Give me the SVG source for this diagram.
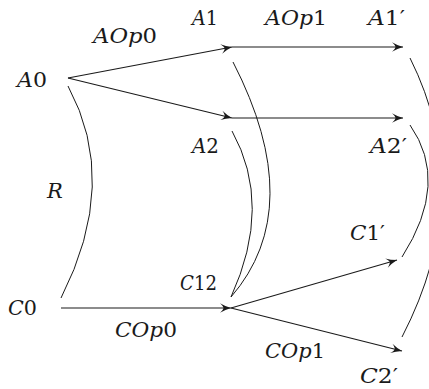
<svg xmlns="http://www.w3.org/2000/svg" width="429" height="389" viewBox="0 0 429 389">
<defs>
<style>
.lbl{font-family:"DejaVu Serif","Liberation Serif",serif;font-style:italic;font-size:21px;fill:#1a1a1a}
.up{font-style:normal}
.ln{fill:none;stroke:#1a1a1a;stroke-width:1.1}
.cv{fill:none;stroke:#1a1a1a;stroke-width:1}
</style>
<marker id="ah" markerUnits="userSpaceOnUse" markerWidth="14" markerHeight="12" viewBox="-12 -6 14 12" refX="0" refY="0" orient="auto">
<path d="M0,0 Q-6,-1.8 -11,-4.8 Q-7.5,-1.5 -7.5,0 Q-7.5,1.5 -11,4.8 Q-6,1.8 0,0 Z" fill="#1a1a1a"/>
</marker>
</defs>
<g id="connectors">
<path class="ln" d="M68,78 L232,47" marker-end="url(#ah)"/>
<path class="ln" d="M68,78 L232,118" marker-end="url(#ah)"/>
<path class="ln" d="M232,47 L403,47" marker-end="url(#ah)"/>
<path class="ln" d="M232,118 L403,118" marker-end="url(#ah)"/>
<path class="ln" d="M61,308 L231,308" marker-end="url(#ah)"/>
<path class="ln" d="M231,308 L397,260" marker-end="url(#ah)"/>
<path class="ln" d="M231,308 L402,351" marker-end="url(#ah)"/>
<path class="cv" d="M68,86 Q120,182 61,298"/>
<path class="cv" d="M233,62 Q308,208 231,297"/>
<path class="cv" d="M232,131 Q273,205 231,297"/>
<path class="cv" d="M410,125 Q450,182 402,257"/>
<path class="cv" d="M410,58 Q477,192 402,337"/>
</g>
<g id="n-A0"><text class="lbl" x="17" y="87" textLength="30" lengthAdjust="spacingAndGlyphs">A<tspan class="up">0</tspan></text></g>
<g id="n-A1"><text class="lbl" x="192" y="25" textLength="26" lengthAdjust="spacingAndGlyphs">A<tspan class="up">1</tspan></text></g>
<g id="n-A2"><text class="lbl" x="192" y="153" textLength="27" lengthAdjust="spacingAndGlyphs">A<tspan class="up">2</tspan></text></g>
<g id="n-A1p"><text class="lbl" x="368" y="25" textLength="37" lengthAdjust="spacingAndGlyphs">A<tspan class="up">1′</tspan></text></g>
<g id="n-A2p"><text class="lbl" x="370" y="153" textLength="37" lengthAdjust="spacingAndGlyphs">A<tspan class="up">2′</tspan></text></g>
<g id="n-C0"><text class="lbl" x="8" y="315" textLength="29" lengthAdjust="spacingAndGlyphs">C<tspan class="up">0</tspan></text></g>
<g id="n-C12"><text class="lbl" x="180" y="290" textLength="37" lengthAdjust="spacingAndGlyphs">C<tspan class="up">12</tspan></text></g>
<g id="n-C1p"><text class="lbl" x="350" y="240" textLength="35" lengthAdjust="spacingAndGlyphs">C<tspan class="up">1′</tspan></text></g>
<g id="n-C2p"><text class="lbl" x="360" y="383" textLength="38" lengthAdjust="spacingAndGlyphs">C<tspan class="up">2′</tspan></text></g>
<g id="edge-labels">
<text class="lbl" x="93" y="43" textLength="64" lengthAdjust="spacingAndGlyphs">AOp<tspan class="up">0</tspan></text>
<text class="lbl" x="265" y="25" textLength="62" lengthAdjust="spacingAndGlyphs">AOp<tspan class="up">1</tspan></text>
<text class="lbl" x="115" y="337" textLength="62" lengthAdjust="spacingAndGlyphs">COp<tspan class="up">0</tspan></text>
<text class="lbl" x="265" y="358" textLength="60" lengthAdjust="spacingAndGlyphs">COp<tspan class="up">1</tspan></text>
<text class="lbl" x="47" y="198">R</text>
</g>
</svg>
